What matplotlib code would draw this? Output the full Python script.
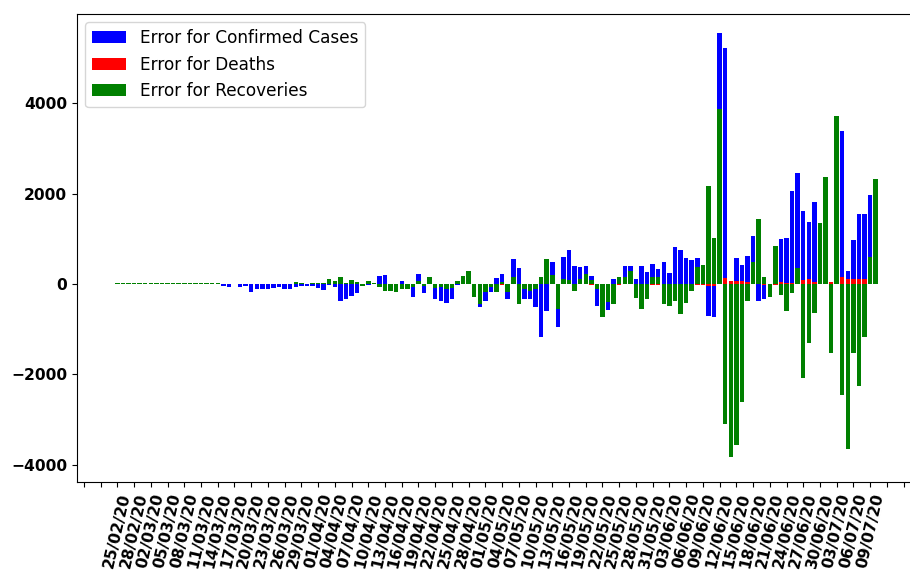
import numpy as np
import pandas as pd
import matplotlib
matplotlib.use("Agg")
import matplotlib.pyplot as plt

# daily prediction errors, 25/02/20 .. 10/07/20
confirmed_err = [0] * 19 + [
    -40, -60, -10, -70, -50, -170, -110, -110, -100, -80, -60, -110, -100,
    -60, -40, -40, -50, -90, -140, -20, -60, -370, -330, -260, -200, -20,
    -30, 20, 170, 190, -40, -60, 70, -50, -290, 220, -200, 40, -330, -370,
    -420, -340, -30, 60, 100, -100, -520, -370, -170, 125, 220, -330, 550,
    350, -330, -330, -520, -1180, -590, 495, -960, 590, 760, 400, 370, 400,
    185, -480, -300, -575, 100, 80, 400, 400, 120, 406, 258, 443, 332, 494,
    244, 812, 760, 568, 539, 568, 300, -716, -738, 5557, 5218, 40, 568, 420,
    613, 1055, -369, -332, -100, 400, 989, 1011, 2066, 2465, 1624, 1380,
    1823, 900, 1200, 30, 2000, 3387, 295, 974, 1542, 1542, 1970, 1500,
]
deaths_err = [0] * 55 + [
    -15, 0, 0, 0, 0, 0, 0, 0, 0, 0, 0, 0, 0, 0, -15, 0, 0, 0, 0, -15, -15,
    0, 0, 0, 0, 0, 0, 0, 0, 0, -15, -15, 0, 0, -15, -15, 0, 0, 0, 0, -20,
    -15, -20, -10, -15, -20, -25, -25, -20, -30, -30, -40, -40, 100, 125,
    74, 74, 60, 50, 30, 20, -20, -25, -20, 50, 30, 30, 40, 89, 103, 52, 30,
    20, 52, 20, 162, 103, 103, 103, 103, 80, 60,
]
recovered_err = [16] * 19 + [5] * 13 + [
    40, 20, 10, 20, 30, 30, 110, 60, 150, 30, 80, 40, -40, 60, 30, -60,
    -150, -150, -180, -100, -120, -60, 60, -40, 150, -80, -60, -100, -80,
    60, 185, 280, -295, -440, -185, -60, -170, 50, -185, 150, -440, -100,
    -150, -100, 150, 550, 200, -550, 100, 80, -150, 100, 220, 80, -100,
    -740, -400, -440, 150, 150, 290, -300, -553, -332, 162, 162, -443, -480,
    -369, -664, -420, -148, 369, 428, 2162, 1011, 3875, -3100, -3838, -3565,
    -2620, -369, 494, 1439, 162, -295, 841, -244, -590, -192, 362, -2089,
    -1314, -650, 1358, 2376, -1520, 3720, -2458, -3660, -1535, -2258, -1166,
    605, 2317,
]
dates = pd.date_range("2020-02-25", periods=len(confirmed_err)).strftime("%d/%m/%y")

x = np.arange(len(dates))
fig = plt.figure(figsize=(9.1, 5.73), dpi=100)
ax = fig.add_axes([77 / 910, 91 / 573, 845 / 910, 468 / 573])

ax.bar(x, confirmed_err, color="blue", label="Error for Confirmed Cases")
ax.bar(x, deaths_err, color="red", label="Error for Deaths")
ax.bar(x, recovered_err, color="green", label="Error for Recoveries")

ax.set_xlim(-7.24, 144.3)
ax.set_ylim(-4383, 5977)
ax.set_yticks([-4000, -2000, 0, 2000, 4000])

ticks = np.arange(-6, 144, 3)
labels = [dates[t] if 0 <= t < len(dates) - 1 else "" for t in ticks]
ax.set_xticks(ticks)
ax.set_xticklabels(labels, rotation=77, ha="center")
for lab in ax.get_xticklabels() + ax.get_yticklabels():
    lab.set_fontweight("bold")
    lab.set_fontsize(11.2)

ax.legend(loc="upper left", fontsize=12.2)

fig.savefig("out.png", dpi=100)
